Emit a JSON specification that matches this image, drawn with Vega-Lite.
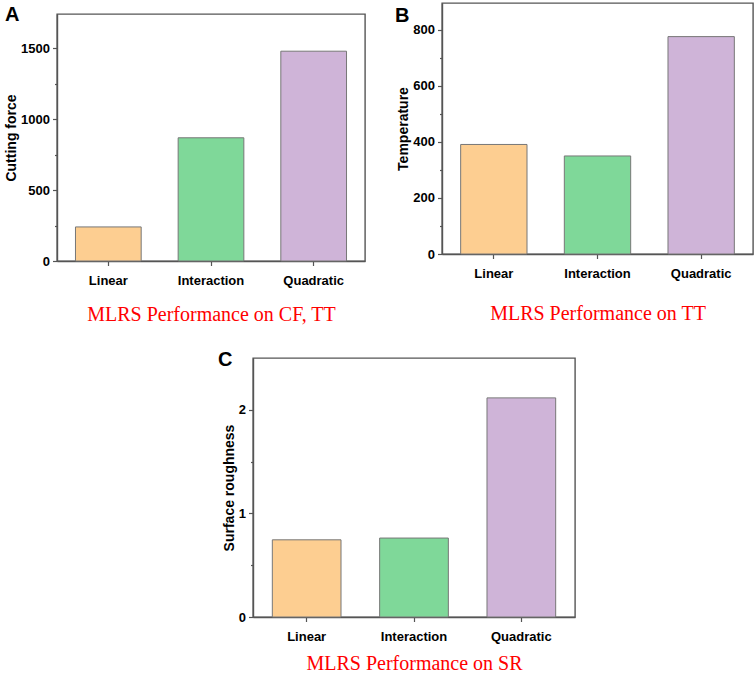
{
  "$schema": "https://vega.github.io/schema/vega-lite/v6.json",
  "padding": {"left": 3, "top": 2, "right": 0, "bottom": 0},
  "background": "white",
  "datasets": {
    "cf": [
      {"model": "Linear", "value": 240},
      {"model": "Interaction", "value": 868},
      {"model": "Quadratic", "value": 1478}
    ],
    "tt": [
      {"model": "Linear", "value": 391},
      {"model": "Interaction", "value": 350},
      {"model": "Quadratic", "value": 776}
    ],
    "sr": [
      {"model": "Linear", "value": 0.745},
      {"model": "Interaction", "value": 0.762},
      {"model": "Quadratic", "value": 2.115}
    ]
  },
  "vconcat": [
    {
      "hconcat": [
        {
          "vconcat": [
            {
              "width": 10,
              "height": 1,
              "data": {"values": []},
              "mark": "point",
              "view": {"stroke": null, "fill": "white"}
            },
            {
              "title": {"text": "A", "anchor": "start", "frame": "group", "dx": -52, "offset": -11},
              "width": 308,
              "height": 247,
              "data": {"name": "cf"},
              "layer": [
                {
                  "mark": {"type": "bar", "stroke": "#777", "strokeWidth": 1},
                  "encoding": {
                    "x": {"field": "model", "type": "nominal", "sort": null, "scale": {"paddingInner": 0.36, "paddingOuter": 0.18},
                      "axis": {"title": "MLRS Performance on CF, TT", "titlePadding": 17}},
                    "y": {"field": "value", "type": "quantitative", "scale": {"domain": [0, 1740], "nice": false},
                      "axis": {"title": "Cutting force", "values": [0, 500, 1000, 1500], "format": "d"}},
                    "color": {"field": "model", "type": "nominal", "sort": null, "legend": null,
                      "scale": {"range": ["#FDCE91", "#7FD899", "#CFB4D8"]}}
                  }
                },
                {
                  "mark": {"type": "bar", "opacity": 0},
                  "encoding": {
                    "x": {"field": "model", "type": "nominal", "sort": null},
                    "y": {"field": "value", "type": "quantitative",
                      "axis": {"orient": "left", "title": null, "labels": false, "domain": false, "tickSize": 2.5, "values": [250, 750, 1250]}}
                  }
                }
              ],
              "resolve": {"axis": {"y": "independent"}}
            }
          ],
          "spacing": 0
        },
        {
          "title": {"text": "B", "anchor": "start", "frame": "group", "dx": -47, "offset": -23},
          "width": 311,
          "height": 251,
          "data": {"name": "tt"},
          "layer": [
            {
              "mark": {"type": "bar", "stroke": "#777", "strokeWidth": 1},
              "encoding": {
                "x": {"field": "model", "type": "nominal", "sort": null, "scale": {"paddingInner": 0.36, "paddingOuter": 0.18},
                  "axis": {"title": "MLRS Performance on TT", "titlePadding": 23}},
                "y": {"field": "value", "type": "quantitative", "scale": {"domain": [0, 896], "nice": false},
                  "axis": {"title": "Temperature", "values": [0, 200, 400, 600, 800]}},
                "color": {"field": "model", "type": "nominal", "sort": null, "legend": null,
                  "scale": {"range": ["#FDCE91", "#7FD899", "#CFB4D8"]}}
              }
            },
            {
              "mark": {"type": "bar", "opacity": 0},
              "encoding": {
                "x": {"field": "model", "type": "nominal", "sort": null},
                "y": {"field": "value", "type": "quantitative",
                  "axis": {"orient": "left", "title": null, "labels": false, "domain": false, "tickSize": 2.5, "values": [100, 300, 500, 700]}}
              }
            }
          ],
          "resolve": {"axis": {"y": "independent"}}
        }
      ],
      "spacing": 28
    },
    {
      "hconcat": [
        {
          "width": 160,
          "height": 10,
          "data": {"values": []},
          "mark": "point",
          "view": {"stroke": null, "fill": "white"}
        },
        {
          "title": {"text": "C", "anchor": "start", "frame": "group", "dx": -35, "offset": -12},
          "width": 322,
          "height": 259,
          "data": {"name": "sr"},
          "layer": [
            {
              "mark": {"type": "bar", "stroke": "#777", "strokeWidth": 1},
              "encoding": {
                "x": {"field": "model", "type": "nominal", "sort": null, "scale": {"paddingInner": 0.36, "paddingOuter": 0.18},
                  "axis": {"title": "MLRS Performance on SR", "titlePadding": 10}},
                "y": {"field": "value", "type": "quantitative", "scale": {"domain": [0, 2.5], "nice": false},
                  "axis": {"title": "Surface roughness", "values": [0, 1, 2]}},
                "color": {"field": "model", "type": "nominal", "sort": null, "legend": null,
                  "scale": {"range": ["#FDCE91", "#7FD899", "#CFB4D8"]}}
              }
            },
            {
              "mark": {"type": "bar", "opacity": 0},
              "encoding": {
                "x": {"field": "model", "type": "nominal", "sort": null},
                "y": {"field": "value", "type": "quantitative",
                  "axis": {"orient": "left", "title": null, "labels": false, "domain": false, "tickSize": 2.5, "values": [0.5, 1.5]}}
              }
            }
          ],
          "resolve": {"axis": {"y": "independent"}}
        }
      ],
      "spacing": 0
    }
  ],
  "spacing": 23,
  "config": {
    "font": "Liberation Sans",
    "view": {"stroke": "#555", "strokeWidth": 1.4},
    "title": {"font": "Liberation Sans", "fontSize": 20, "fontWeight": "bold", "color": "black"},
    "axis": {
      "grid": false,
      "domainColor": "#555",
      "domainWidth": 1.4,
      "tickColor": "#555",
      "tickWidth": 1.2,
      "tickSize": 4.5,
      "labelFont": "Liberation Sans",
      "labelFontWeight": "bold",
      "labelFontSize": 13,
      "labelColor": "black",
      "titleFont": "Liberation Sans",
      "titleFontWeight": "bold",
      "titleFontSize": 14,
      "titleColor": "black"
    },
    "axisY": {"labelPadding": 3, "titlePadding": 2},
    "axisX": {
      "labelAngle": 0,
      "labelPadding": 9,
      "titleFont": "Liberation Serif",
      "titleFontWeight": "normal",
      "titleFontSize": 20,
      "titleColor": "#FF0000"
    }
  }
}
